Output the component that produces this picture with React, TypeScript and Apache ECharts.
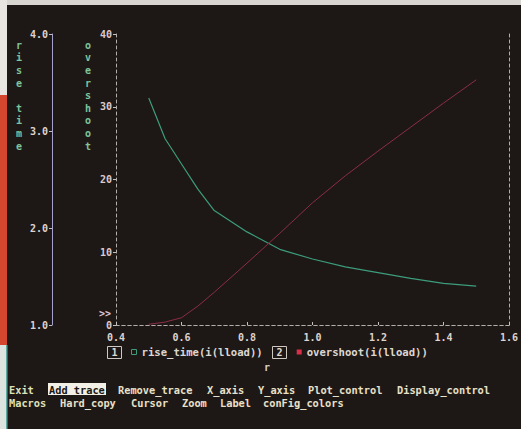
import React, { useEffect, useRef } from "react";
import * as echarts from "echarts";

const rValues = [0.5, 0.55, 0.6, 0.65, 0.7, 0.8, 0.9, 1.0, 1.1, 1.2, 1.3, 1.4, 1.5];
const riseTime = [3.34, 2.92, 2.66, 2.4, 2.18, 1.96, 1.78, 1.68, 1.6, 1.54, 1.48, 1.43, 1.4];
const overshoot = [0.1, 0.4, 1.0, 2.6, 4.5, 8.5, 12.6, 16.8, 20.5, 23.9, 27.2, 30.5, 33.7];
const xTicks = ["0.4", "0.6", "0.8", "1.0", "1.2", "1.4", "1.6"];
const riseTicks = ["1.0", "2.0", "3.0", "4.0"];
const overshootTicks = ["0", "10", "20", "30", "40"];
const seriesNames = ["rise_time(i(lload))", "overshoot(i(lload))"];
const menuRow1 = ["Exit", "Add_trace", "Remove_trace", "X_axis", "Y_axis", "Plot_control", "Display_control"];
const menuRow2 = ["Macros", "Hard_copy", "Cursor", "Zoom", "Label", "conFig_colors"];
const menuX1 = [9, 49, 118, 207, 258, 308, 397];
const menuX2 = [9, 60, 131, 182, 220, 263];

const MONO = '"DejaVu Sans Mono", "Liberation Mono", monospace';
const GREEN = "#3c9c7c";
const RED = "#8c2e44";
const BG = "#1d1816";

export default function App() {
  const ref = useRef<HTMLDivElement>(null);
  useEffect(() => {
    if (!ref.current) return;
    const chart = echarts.init(ref.current, undefined, { renderer: "svg" });
    const dashed = { color: "#b5adad", width: 1, type: [3, 3] as any };
    const graphic: any[] = [
      { type: "rect", z: 100, shape: { x: 0, y: 0, width: 521, height: 5 }, style: { fill: "#d8d4cf" } },
      { type: "rect", z: 100, shape: { x: 0, y: 0, width: 7, height: 95 }, style: { fill: "#e8e4df" } },
      { type: "rect", z: 100, shape: { x: 0, y: 95, width: 7, height: 250 }, style: { fill: "#d4472e" } },
      { type: "rect", z: 100, shape: { x: 0, y: 345, width: 7, height: 84 }, style: { fill: "#dde3df" } },
      { type: "rect", z: 100, shape: { x: 6, y: 345, width: 1.5, height: 84 }, style: { fill: "#5fa8a0" } },
      {
        type: "text", x: 16, y: 39,
        style: { text: "r\ni\ns\ne\n \nt\ni\nm\ne", fill: "#7fc49a", fontFamily: MONO, fontSize: 10, fontWeight: "bold", lineHeight: 12.6, verticalAlign: "top" },
      },
      {
        type: "text", x: 85, y: 39,
        style: { text: "o\nv\ne\nr\ns\nh\no\no\nt", fill: "#7fc49a", fontFamily: MONO, fontSize: 10, fontWeight: "bold", lineHeight: 12.6, verticalAlign: "top" },
      },
      {
        type: "text", x: 99, y: 313,
        style: { text: ">>", fill: "#d9c2d4", fontFamily: MONO, fontSize: 10, fontWeight: "bold", verticalAlign: "middle" },
      },
      { type: "rect", shape: { x: 107.5, y: 346.5, width: 14, height: 12 }, style: { fill: "none", stroke: "#cfc8c0", lineWidth: 1 } },
      {
        type: "text", x: 114.5, y: 352.5,
        style: { text: "1", fill: "#e0d8d0", fontFamily: MONO, fontSize: 10, fontWeight: "bold", align: "center", verticalAlign: "middle" },
      },
      { type: "rect", shape: { x: 272.5, y: 346.5, width: 14, height: 12 }, style: { fill: "none", stroke: "#cfc8c0", lineWidth: 1 } },
      {
        type: "text", x: 279.5, y: 352.5,
        style: { text: "2", fill: "#e0d8d0", fontFamily: MONO, fontSize: 10, fontWeight: "bold", align: "center", verticalAlign: "middle" },
      },
      {
        type: "text", x: 267, y: 367,
        style: { text: "r", fill: "#d8d0cc", fontFamily: MONO, fontSize: 10, fontWeight: "bold", align: "center", verticalAlign: "middle" },
      },
      { type: "rect", shape: { x: 48, y: 383, width: 58, height: 12 }, style: { fill: "#f1efe6" } },
    ];
    menuRow1.forEach((t, i) => {
      graphic.push({
        type: "text", x: menuX1[i], y: 389.5,
        style: {
          text: t, fill: i === 1 ? "#1a1614" : i === 0 ? "#dfe0b8" : "#e8e0c8",
          fontFamily: MONO, fontSize: 10.3, fontWeight: "bold", verticalAlign: "middle",
        },
      });
    });
    menuRow2.forEach((t, i) => {
      graphic.push({
        type: "text", x: menuX2[i], y: 402.5,
        style: {
          text: t, fill: i === 0 ? "#dfe0b8" : "#e8e0c8",
          fontFamily: MONO, fontSize: 10.3, fontWeight: "bold", verticalAlign: "middle",
        },
      });
    });

    const labelStyle = { color: "#ddd3cf", fontFamily: MONO, fontSize: 10, fontWeight: "bold" as const };

    chart.setOption({
      animation: false,
      backgroundColor: BG,
      grid: { left: 116, right: 12, top: 34, bottom: 104, containLabel: false },
      legend: {
        left: 131, top: 346, padding: 0, orient: "horizontal", itemWidth: 5, itemHeight: 5, itemGap: 34,
        textStyle: { color: "#ddd6d0", fontFamily: MONO, fontSize: 10.6, fontWeight: "bold", lineHeight: 12 },
        data: [
          { name: seriesNames[0], icon: "rect", itemStyle: { color: "transparent", borderColor: GREEN, borderWidth: 1 } },
          { name: seriesNames[1], icon: "rect", itemStyle: { color: "#d8304a" } },
        ],
      },
      xAxis: [
        {
          type: "value", min: 0.4, max: 1.6, interval: 0.2, position: "bottom",
          axisLine: { show: true, lineStyle: dashed },
          axisTick: { show: true, inside: true, length: 3, lineStyle: { color: "#c8c0c0" } },
          axisLabel: { ...labelStyle, margin: 7, formatter: (v: number) => xTicks[Math.round((v - 0.4) / 0.2)] ?? "" },
          splitLine: { show: false },
        },
        {
          type: "value", min: 0.4, max: 1.6, interval: 0.2, position: "top",
          axisLine: { show: true, lineStyle: dashed },
          axisTick: { show: false }, axisLabel: { show: false }, splitLine: { show: false },
        },
      ],
      yAxis: [
        {
          type: "value", min: 1, max: 4, interval: 1, position: "left", offset: 64,
          axisLine: { show: true, lineStyle: { color: "#a4a2cc", width: 1 } },
          axisTick: { show: true, length: 3, lineStyle: { color: "#c0bcc8" } },
          axisLabel: { ...labelStyle, margin: 4, formatter: (v: number) => riseTicks[Math.round(v - 1)] ?? "" },
          splitLine: { show: false },
        },
        {
          type: "value", min: 0, max: 40, interval: 10, position: "left", offset: 0,
          axisLine: { show: true, lineStyle: dashed },
          axisTick: { show: true, length: 3, lineStyle: { color: "#c8c0c0" } },
          axisLabel: { ...labelStyle, color: "#dcc9cc", margin: 4, formatter: (v: number) => overshootTicks[Math.round(v / 10)] ?? "" },
          splitLine: { show: false },
        },
        {
          type: "value", min: 0, max: 40, interval: 10, position: "right", offset: 0,
          axisLine: { show: true, lineStyle: dashed },
          axisTick: { show: false }, axisLabel: { show: false }, splitLine: { show: false },
        },
      ],
      series: [
        {
          name: seriesNames[0], type: "line", yAxisIndex: 0, symbol: "none",
          lineStyle: { color: GREEN, width: 1.2 }, itemStyle: { color: GREEN },
          data: rValues.map((r, i) => [r, riseTime[i]]),
        },
        {
          name: seriesNames[1], type: "line", yAxisIndex: 1, symbol: "none",
          lineStyle: { color: RED, width: 1 }, itemStyle: { color: RED },
          data: rValues.map((r, i) => [r, overshoot[i]]),
        },
      ],
      graphic,
    });
    return () => chart.dispose();
  }, []);
  return <div ref={ref} style={{ position: "fixed", left: 0, top: 0, width: 521, height: 429 }} />;
}
